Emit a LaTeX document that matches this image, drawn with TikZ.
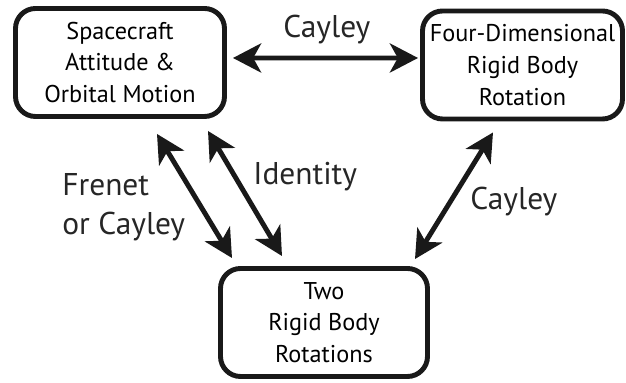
\documentclass[tikz,border=0pt]{standalone}
\usepackage{fontspec}
\setmainfont{PT Sans}
\usetikzlibrary{arrows.meta}

\begin{document}
\begin{tikzpicture}[
    box/.style={draw=black!90, line width=2.8pt, rounded corners=0.4cm,
                align=center, inner sep=1pt, minimum height=2.16cm,
                font=\fontsize{13.8}{18.1}\selectfont},
    dbl/.style={{Stealth[length=16pt,width=16.5pt,inset=4.5pt]}-{Stealth[length=16pt,width=16.5pt,inset=4.5pt]},
                line width=2.8pt, draw=black!90},
    lbl/.style={font=\fontsize{17.9}{22.7}\selectfont, text=black!85, inner sep=0pt}
]
\useasboundingbox (0,0) rectangle (12.52,7.66);

\node[box, minimum width=4.18cm] (craft) at (2.4,6.41) {Spacecraft\\Attitude \&\\Orbital Motion};
\node[box, minimum width=4.0cm] (fourd) at (10.45,6.36) {Four-Dimensional\\Rigid Body\\Rotation};
\node[box, minimum width=4.14cm] (tworb) at (6.48,1.21) {Two\\Rigid Body\\Rotations};

\draw[dbl] ([shift={(0.12,0.09)}]craft.east) -- ([shift={(-0.04,0.14)}]fourd.west);
\draw[dbl] ([shift={(0.74,-0.30)}]craft.south) -- ([shift={(-1.84,0.16)}]tworb.north);
\draw[dbl] ([shift={(1.76,-0.24)}]craft.south) -- ([shift={(-0.84,0.20)}]tworb.north);
\draw[dbl] ([shift={(-0.59,-0.22)}]fourd.south) -- ([shift={(1.82,0.14)}]tworb.north);

\node[lbl, anchor=base west] (topcay) at (5.66,6.9) {Cayley};
\node[lbl, anchor=base west] (ident) at (5.06,3.96) {Identity};
\node[lbl, anchor=base west] (rightcay) at (9.4,3.46) {Cayley};
\node[lbl, anchor=base west, align=left] (frenet) at (1.24,2.96) {Frenet\\or Cayley};

\end{tikzpicture}
\end{document}
